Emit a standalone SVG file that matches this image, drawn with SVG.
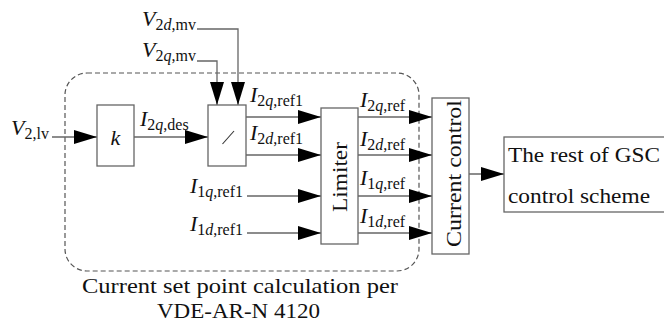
<svg xmlns="http://www.w3.org/2000/svg" width="664" height="325" viewBox="0 0 664 325">
<defs>
<style>
.box{fill:#fff;stroke:#666;stroke-width:1.3}
.wire{fill:none;stroke:#666;stroke-width:1.3}
.dash{fill:none;stroke:#555;stroke-width:1.2;stroke-dasharray:5,3}
.t{font-size:21px;fill:#111;font-family:'Liberation Serif',serif}
.m{font-size:22px;font-style:italic;fill:#111;font-family:'Liberation Serif',serif}
.s{font-size:16px;font-style:normal}
.si{font-size:16px;font-style:italic}
</style>
<marker id="ah" markerUnits="userSpaceOnUse" markerWidth="23" markerHeight="14" refX="23" refY="7" orient="auto">
<path d="M0,0 L23,7 L0,14 z" fill="#000"/>
</marker>
</defs>
<rect width="664" height="325" fill="#fff"/>

<g id="region">
<rect class="dash" x="65" y="73" width="354" height="198" rx="22" ry="22"/>
<text class="t" x="240" y="293" text-anchor="middle" textLength="316" lengthAdjust="spacingAndGlyphs">Current set point calculation per</text>
<text class="t" x="238.5" y="318" text-anchor="middle" textLength="163" lengthAdjust="spacingAndGlyphs">VDE-AR-N 4120</text>
</g>

<g id="connectors">
<path class="wire" marker-end="url(#ah)" d="M52,137 H97"/>
<path class="wire" marker-end="url(#ah)" d="M134,137 H208"/>
<path class="wire" marker-end="url(#ah)" d="M197,61 H217 V105"/>
<path class="wire" marker-end="url(#ah)" d="M197,29 H238 V105"/>
<path class="wire" marker-end="url(#ah)" d="M246,117 H321"/>
<path class="wire" marker-end="url(#ah)" d="M246,155 H321"/>
<path class="wire" marker-end="url(#ah)" d="M247,196 H321"/>
<path class="wire" marker-end="url(#ah)" d="M247,233 H321"/>
<path class="wire" marker-end="url(#ah)" d="M358,117 H432"/>
<path class="wire" marker-end="url(#ah)" d="M358,155 H432"/>
<path class="wire" marker-end="url(#ah)" d="M358,196 H432"/>
<path class="wire" marker-end="url(#ah)" d="M358,233 H432"/>
<path class="wire" marker-end="url(#ah)" d="M469,174 H504"/>
</g>

<g id="labels">
<text class="m" x="49" y="135" text-anchor="end">V<tspan class="s" dy="4">2,lv</tspan></text>
<text class="m" x="196" y="26" text-anchor="end">V<tspan class="s" dy="4">2</tspan><tspan class="si">d</tspan><tspan class="s">,mv</tspan></text>
<text class="m" x="196" y="57" text-anchor="end">V<tspan class="s" dy="4">2</tspan><tspan class="si">q</tspan><tspan class="s">,mv</tspan></text>
<text class="m" x="140" y="126">I<tspan class="s" dy="4">2</tspan><tspan class="si">q</tspan><tspan class="s">,des</tspan></text>
<text class="m" x="250" y="102">I<tspan class="s" dy="4">2</tspan><tspan class="si">q</tspan><tspan class="s">,ref1</tspan></text>
<text class="m" x="250" y="140">I<tspan class="s" dy="4">2</tspan><tspan class="si">d</tspan><tspan class="s">,ref1</tspan></text>
<text class="m" x="243" y="193" text-anchor="end">I<tspan class="s" dy="4">1</tspan><tspan class="si">q</tspan><tspan class="s">,ref1</tspan></text>
<text class="m" x="243" y="231" text-anchor="end">I<tspan class="s" dy="4">1</tspan><tspan class="si">d</tspan><tspan class="s">,ref1</tspan></text>
<text class="m" x="360" y="107">I<tspan class="s" dy="4">2</tspan><tspan class="si">q</tspan><tspan class="s">,ref</tspan></text>
<text class="m" x="360" y="146">I<tspan class="s" dy="4">2</tspan><tspan class="si">d</tspan><tspan class="s">,ref</tspan></text>
<text class="m" x="360" y="185">I<tspan class="s" dy="4">1</tspan><tspan class="si">q</tspan><tspan class="s">,ref</tspan></text>
<text class="m" x="360" y="223">I<tspan class="s" dy="4">1</tspan><tspan class="si">d</tspan><tspan class="s">,ref</tspan></text>
</g>

<g id="gain">
<rect class="box" x="97" y="105" width="37" height="61"/>
<text class="m" x="115.5" y="145" text-anchor="middle">k</text>
</g>

<g id="divider">
<rect class="box" x="208" y="105" width="38" height="61"/>
<line x1="222.5" y1="144" x2="234" y2="131" stroke="#333" stroke-width="1.1"/>
</g>

<g id="limiter">
<rect class="box" x="321" y="108" width="37" height="136"/>
<text class="t" transform="translate(347,177) rotate(-90)" x="0" y="0" text-anchor="middle" textLength="70" lengthAdjust="spacingAndGlyphs">Limiter</text>
</g>

<g id="current-control">
<rect class="box" x="432" y="98" width="37" height="156"/>
<text class="t" transform="translate(461,173.5) rotate(-90)" x="0" y="0" text-anchor="middle" textLength="147" lengthAdjust="spacingAndGlyphs">Current control</text>
</g>

<g id="rest">
<rect class="box" x="504" y="137" width="170" height="75"/>
<text class="t" x="508" y="162" textLength="152" lengthAdjust="spacingAndGlyphs">The rest of GSC</text>
<text class="t" x="508" y="203" textLength="142" lengthAdjust="spacingAndGlyphs">control scheme</text>
</g>
</svg>
